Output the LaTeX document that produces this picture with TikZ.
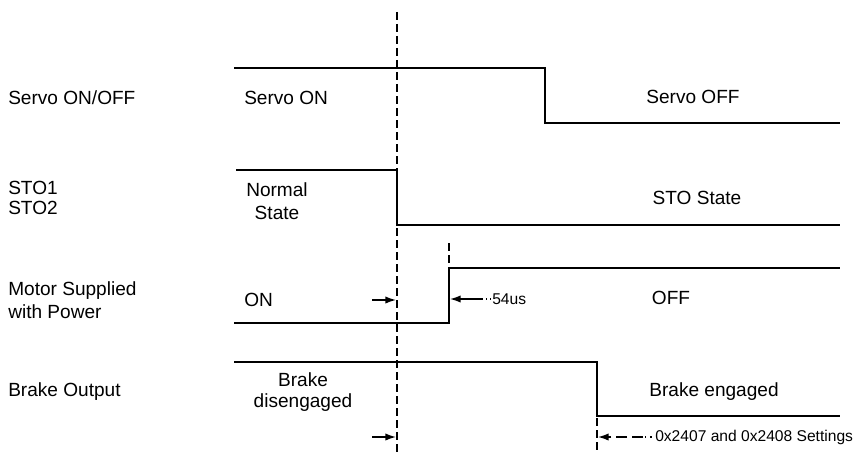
\documentclass[tikz,border=0pt]{standalone}
\usepackage{fontspec}
\setmainfont{Liberation Sans}
\usepackage{tikz}
\usetikzlibrary{arrows.meta, positioning}
\tikzset{
  signal/.style={line width=1.5pt, line join=miter},
  marker/.style={line width=1.5pt, dash pattern=on 6pt off 3pt},
  lbl/.style={font=\fontsize{14.3}{17}\selectfont, inner sep=0pt, align=left, anchor=west},
  state/.style={font=\fontsize{14.3}{17}\selectfont, inner sep=0pt, align=center},
  note/.style={font=\fontsize{11.7}{14}\selectfont, inner sep=0pt, anchor=west},
  arrow/.style={-{Latex[length=8pt, width=5.5pt]}, line width=1.1pt},
}

\begin{document}
\begin{tikzpicture}[x=0.75pt, y=-0.75pt]
\useasboundingbox (0,0) rectangle (856,453);

% signal names
\node[lbl] (servolbl) at (8,98) {Servo ON/OFF};
\node[lbl, font=\fontsize{14.3}{15}\selectfont] (stolbl) at (8,198) {STO1\\STO2};
\node[lbl] (motorlbl) at (8,300) {Motor Supplied\\with Power};
\node[lbl] (brakelbl) at (8,392) {Brake Output};

% states
\node[lbl] (servoon) at (244,98) {Servo ON};
\node[state] (normal) at (277,201) {Normal\\State};
\node[lbl] (on) at (244,300) {ON};
\node[state, font=\fontsize{14.3}{16}\selectfont] (disengaged) at (303,392) {Brake\\disengaged};
\node[state] (servooff) at (693,97) {Servo OFF};
\node[state] (stostate) at (697,198) {STO State};
\node[state] (off) at (671,298) {OFF};
\node[state] (engaged) at (714,392) {Brake engaged};

% waveforms
\draw[signal] (234,68) -| (545,123) -- (840,123);
\draw[signal] (236,170) -| (397,225) -- (840,225);
\draw[signal] (234,323) -| (449,268) -- (840,268);
\draw[signal] (234,362) -| (597,416) -- (840,416);

% timing marks
\draw[marker] (397,12) -- (397,453);
\draw[marker] (449,243) -- (449,322);
\draw[marker] (597,418) -- (597,453);

\coordinate (motortail) at (372,300);
\coordinate (motorhit) at (396,300);
\coordinate (braketail) at (372,437);
\coordinate (brakehit) at (396,437);
\draw[arrow] (motortail) -- (motorhit);
\draw[arrow] (braketail) -- (brakehit);

\node[note] (delay) at (492,299) {54us};
\coordinate (delaytail) at (482,299);
\coordinate (delayhit) at (450,299);
\draw[arrow] (delaytail) -- (delayhit);
\draw[line width=0.8pt, dash pattern=on 1pt off 2pt] (delaytail) -- (delay.west);

\node[note] (settings) at (655,437) {0x2407 and 0x2408 Settings};
\coordinate (settail) at (643,437);
\coordinate (sethit) at (598,437);
\draw[arrow, dash pattern=on 8pt off 4pt] (settail) -- (sethit);
\draw[line width=0.8pt, dash pattern=on 1pt off 3pt] ([xshift=1.5pt]settail) -- (settings.west);

\end{tikzpicture}
\end{document}
